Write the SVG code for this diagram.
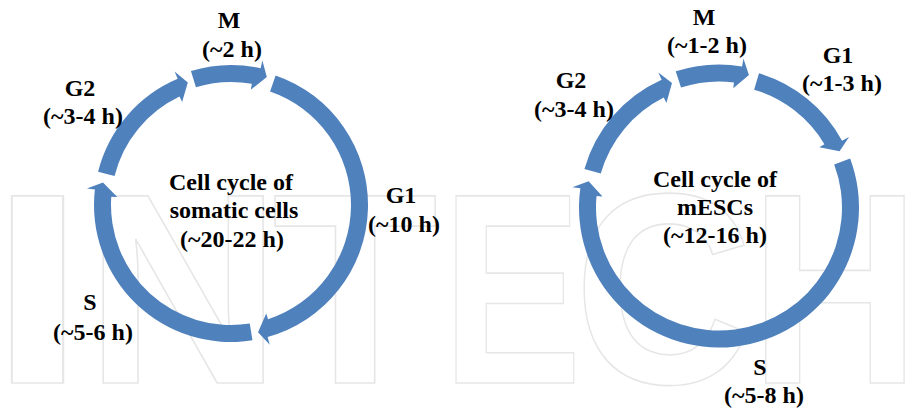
<svg xmlns="http://www.w3.org/2000/svg" width="918" height="411" viewBox="0 0 918 411">
<style>
.arc{fill:#4F81BD;}
.lbl{font-family:"Liberation Serif","Times New Roman",serif;font-weight:bold;font-size:24px;fill:#000;text-anchor:middle;}
.wm{font-family:"Liberation Sans",Arial,sans-serif;font-weight:bold;font-size:272px;fill:#ffffff;stroke:#e6e6e6;stroke-width:1.6;}
</style>
<rect width="918" height="411" fill="#ffffff"/>
<g id="watermark">
<text class="wm" x="-12" y="383" textLength="99" lengthAdjust="spacingAndGlyphs">I</text>
<text class="wm" x="85" y="383">N</text>
<text class="wm" x="272" y="383">T</text>
<text class="wm" x="442" y="383" textLength="140" lengthAdjust="spacingAndGlyphs">E</text>
<text class="wm" x="574" y="383" textLength="179" lengthAdjust="spacingAndGlyphs">C</text>
<text class="wm" x="750" y="383" textLength="170" lengthAdjust="spacingAndGlyphs">H</text>
</g>
<g id="connectors">
<path id="arc-somatic-M" class="arc" transform="translate(0,-3)" d="M 190.95 73.99 A 137 137 0 0 1 260.65 71.25 L 262.38 63.44 L 266.83 80.04 L 250.80 92.73 L 251.84 86.82 A 120 120 0 0 0 195.92 90.24 Z"/>
<path id="arc-somatic-G1" class="arc" d="M 275.60 75.46 A 137 137 0 0 1 267.61 337.02 L 269.75 344.73 L 258.03 332.16 L 266.23 313.42 L 268.08 319.13 A 120 120 0 0 0 270.07 91.54 Z"/>
<path id="arc-somatic-S" class="arc" d="M 252.43 340.31 A 137 137 0 0 1 94.88 189.49 L 86.93 188.59 L 102.97 182.43 L 117.28 197.05 L 111.29 196.63 A 120 120 0 0 0 249.77 323.52 Z"/>
<path id="arc-somatic-G2" class="arc" d="M 98.07 171.86 A 137 137 0 0 1 177.69 78.80 L 174.58 71.43 L 187.82 82.38 L 182.10 102.02 L 179.53 96.60 A 120 120 0 0 0 114.56 175.97 Z"/>
<path id="arc-mesc-M" class="arc" transform="translate(0,-3)" d="M 675.74 74.35 A 140 140 0 0 1 742.11 69.42 L 743.43 61.53 L 748.92 77.91 L 733.26 91.37 L 733.99 85.42 A 123 123 0 0 0 680.99 90.52 Z"/>
<path id="arc-mesc-G1" class="arc" d="M 759.00 73.34 A 140 140 0 0 1 842.03 140.70 L 849.07 136.88 L 839.54 151.29 L 819.29 147.24 L 824.43 144.15 A 123 123 0 0 0 754.14 89.63 Z"/>
<path id="arc-mesc-S" class="arc" d="M 850.13 158.47 A 140 140 0 1 1 580.33 188.26 L 572.40 187.16 L 588.62 181.21 L 602.52 196.49 L 596.55 195.92 A 123 123 0 1 0 834.21 164.42 Z"/>
<path id="arc-mesc-G2" class="arc" d="M 584.42 168.91 A 140 140 0 0 1 661.61 79.80 L 658.33 72.51 L 671.99 83.09 L 666.43 102.98 L 663.73 97.62 A 123 123 0 0 0 600.76 173.60 Z"/>
</g>
<g id="somatic-M"><text class="lbl" x="229" y="28">M</text><text class="lbl" x="232" y="57">(~2 h)</text></g>
<g id="somatic-G1"><text class="lbl" x="401" y="203">G1</text><text class="lbl" x="404" y="232">(~10 h)</text></g>
<g id="somatic-S"><text class="lbl" x="90" y="310">S</text><text class="lbl" x="93" y="340">(~5-6 h)</text></g>
<g id="somatic-G2"><text class="lbl" x="80" y="96">G2</text><text class="lbl" x="83" y="124">(~3-4 h)</text></g>
<g id="somatic-center"><text class="lbl" x="231" y="190">Cell cycle of</text><text class="lbl" x="234" y="218">somatic cells</text><text class="lbl" x="232" y="247">(~20-22 h)</text></g>
<g id="mesc-M"><text class="lbl" x="704" y="25">M</text><text class="lbl" x="707" y="53">(~1-2 h)</text></g>
<g id="mesc-G1"><text class="lbl" x="838" y="63">G1</text><text class="lbl" x="842" y="91">(~1-3 h)</text></g>
<g id="mesc-S"><text class="lbl" x="760" y="375">S</text><text class="lbl" x="764" y="403">(~5-8 h)</text></g>
<g id="mesc-G2"><text class="lbl" x="571" y="88">G2</text><text class="lbl" x="574" y="117">(~3-4 h)</text></g>
<g id="mesc-center"><text class="lbl" x="715" y="187">Cell cycle of</text><text class="lbl" x="715" y="215">mESCs</text><text class="lbl" x="715" y="243">(~12-16 h)</text></g>
</svg>
